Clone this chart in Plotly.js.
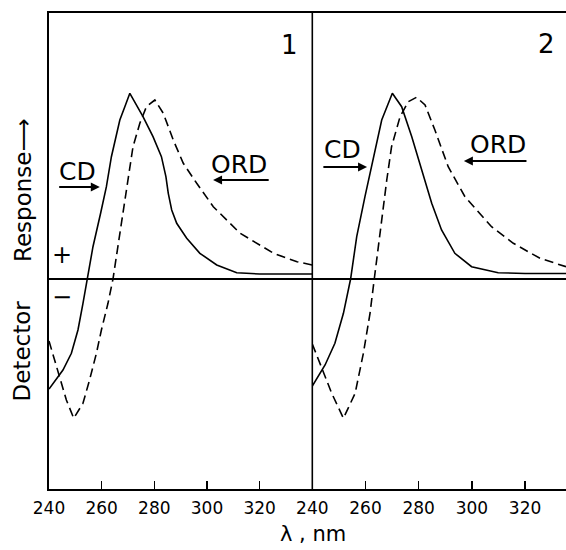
<!DOCTYPE html>
<html>
<head>
<meta charset="utf-8">
<script src="https://cdn.plot.ly/plotly-3.0.1.min.js"></script>
<style>html,body{margin:0;padding:0;background:#fff;}#chart{width:566px;height:550px;}</style>
</head>
<body>
<div id="chart"></div>
<script>
// Panel 1 — CD (solid) and ORD (dashed); wavelength in nm, detector response in arbitrary units
const cd1Wl  = [240, 242.1, 245.3, 248.5, 251, 252.9, 254.6, 256.7, 259.6, 261.8, 263.7, 266.9, 268.8, 270.7, 275.7, 279.5, 282.7, 284.4, 285.3, 286.6, 288.5, 292.3, 297.3, 303.7, 311.3, 320, 340];
const cd1Val = [-110, -102.7, -91, -74.3, -51, -24.3, 0, 32.3, 65.7, 92.3, 122.3, 159, 172.3, 185.7, 162.3, 142.3, 122.3, 102.3, 85.7, 69, 55.7, 40.7, 25.7, 14, 6.3, 5, 5];
const ord1Wl  = [240, 244, 246.6, 249.4, 252.9, 255.4, 258, 259.9, 262.4, 264.3, 266.2, 268.1, 270, 271.9, 274.5, 277, 280.2, 283.4, 287.2, 291, 296.1, 302.4, 312.6, 325.3, 334.2, 340];
const ord1Val = [-62, -97.7, -121, -139.3, -124.3, -101, -74.3, -51, -24.3, 0, 32.3, 65.7, 99, 132.3, 155.7, 172.3, 179, 165.7, 139, 115.7, 95.7, 72.3, 45.7, 25.7, 17.3, 14];

// Panel 2
const cd2Wl  = [240, 244.8, 248.5, 251.7, 254.4, 256.7, 259.8, 262.9, 266.1, 270.1, 273.6, 277.4, 281.1, 284.9, 288.6, 293.6, 299.9, 309.9, 320, 335.4];
const cd2Val = [-107, -86, -64.3, -34.3, 0, 42.3, 82.3, 119, 159, 185.7, 172.3, 142.3, 109, 75.7, 49, 25.7, 12.3, 6.3, 5.5, 5.5];
const ord2Wl  = [240, 243.5, 247.3, 251.7, 256.1, 259.2, 261.7, 263.3, 265.5, 268, 269.8, 273, 276.1, 279.2, 282.4, 286.1, 291.1, 297.4, 307.4, 315.6, 325.6, 335.4];
const ord2Val = [-65, -87.7, -114.3, -139.3, -114.3, -74.3, -34.3, 0, 49, 99, 132.3, 162.3, 177.3, 181.7, 174, 149, 112.3, 82.3, 52.3, 35.7, 20.7, 12.3];

const tickVals = [240, 260, 280, 300, 320];
const tickText = ['240', '260', '280', '300', '320'];
const panelLabels = ['1', '2'];

const FONT = 'DejaVu Sans, sans-serif';
const solid = {color: '#000', width: 1.6};
const dashed = {color: '#000', width: 1.6, dash: '9px,5px'};

const traces = [
  {x: cd1Wl, y: cd1Val, xaxis: 'x', yaxis: 'y', mode: 'lines', line: solid, name: 'CD 1'},
  {x: ord1Wl, y: ord1Val, xaxis: 'x', yaxis: 'y', mode: 'lines', line: dashed, name: 'ORD 1'},
  {x: cd2Wl, y: cd2Val, xaxis: 'x2', yaxis: 'y', mode: 'lines', line: solid, name: 'CD 2'},
  {x: ord2Wl, y: ord2Val, xaxis: 'x2', yaxis: 'y', mode: 'lines', line: dashed, name: 'ORD 2'}
];

const split = 0.5093;
const xCommon = {
  tickvals: tickVals, ticktext: tickText, ticks: 'inside', ticklen: 8, tickwidth: 1.3, tickcolor: '#000',
  showline: true, linecolor: '#000', linewidth: 1.8, mirror: true,
  showgrid: false, zeroline: false, anchor: 'y',
  tickfont: {family: FONT, size: 17, color: '#000'}, ticklabelstandoff: 3, fixedrange: true
};

function txt(text, xref, x, y, size, extra) {
  return Object.assign({text: text, xref: xref, yref: 'y', x: x, y: y, showarrow: false,
    font: {family: FONT, size: size, color: '#000'}, xanchor: 'center', yanchor: 'middle'}, extra || {});
}
function arrow(xref, xHead, xTail, y) {
  return {text: '', xref: xref, yref: 'y', axref: xref, ayref: 'y', x: xHead, y: y, ax: xTail, ay: y,
    showarrow: true, arrowhead: 2, arrowsize: 1, arrowwidth: 1.8, arrowcolor: '#000', standoff: 0, startstandoff: 0};
}

const annotations = [
  txt(panelLabels[0], 'x', 331.2, 234, 26),
  txt(panelLabels[1], 'x2', 327.9, 235, 26),
  txt('CD', 'x', 251, 108, 25),
  arrow('x', 259.3, 243.3, 92),
  txt('ORD', 'x', 312.2, 115, 25),
  arrow('x', 302.3, 324, 99),
  txt('CD', 'x2', 251.2, 130, 25),
  arrow('x2', 260.6, 243.6, 112),
  txt('ORD', 'x2', 309.8, 135, 25),
  arrow('x2', 297, 321.1, 118),
  txt('+', 'x', 245.1, 24, 24),
  txt('\u2212', 'x', 245.1, -18, 24),
  {text: 'Response\u27F6', xref: 'paper', yref: 'paper', x: -0.0503, y: (489 - 190) / 476, textangle: -90,
   showarrow: false, xanchor: 'center', yanchor: 'middle', font: {family: FONT, size: 23, color: '#000'}},
  {text: 'Detector', xref: 'paper', yref: 'paper', x: -0.0503, y: (489 - 350.5) / 476, textangle: -90,
   showarrow: false, xanchor: 'center', yanchor: 'middle', font: {family: FONT, size: 23, color: '#000'}},
  {text: '\u03BB , nm', xref: 'paper', yref: 'paper', x: (313 - 49) / 517, y: (489 - 534) / 476,
   showarrow: false, xanchor: 'center', yanchor: 'middle', font: {family: FONT, size: 21, color: '#000'}}
];

const layout = {
  width: 566, height: 550,
  margin: {l: 49, r: 0, t: 13, b: 61, pad: 0},
  paper_bgcolor: '#fff', plot_bgcolor: '#fff',
  showlegend: false,
  xaxis: Object.assign({}, xCommon, {domain: [0, split], range: [240, 340]}),
  xaxis2: Object.assign({}, xCommon, {domain: [split, 1], range: [240, 335.4]}),
  yaxis: {range: [-210, 266], showline: true, linecolor: '#000', linewidth: 1.8, showticklabels: false,
    ticks: '', showgrid: false, zeroline: true, zerolinecolor: '#000', zerolinewidth: 1.6, fixedrange: true},
  shapes: [
    {type: 'line', xref: 'paper', yref: 'paper', x0: split, x1: split, y0: 0, y1: 1, line: {color: '#000', width: 1.6}}
  ],
  annotations: annotations
};

Plotly.newPlot('chart', traces, layout, {displayModeBar: false, staticPlot: true});
</script>
</body>
</html>
